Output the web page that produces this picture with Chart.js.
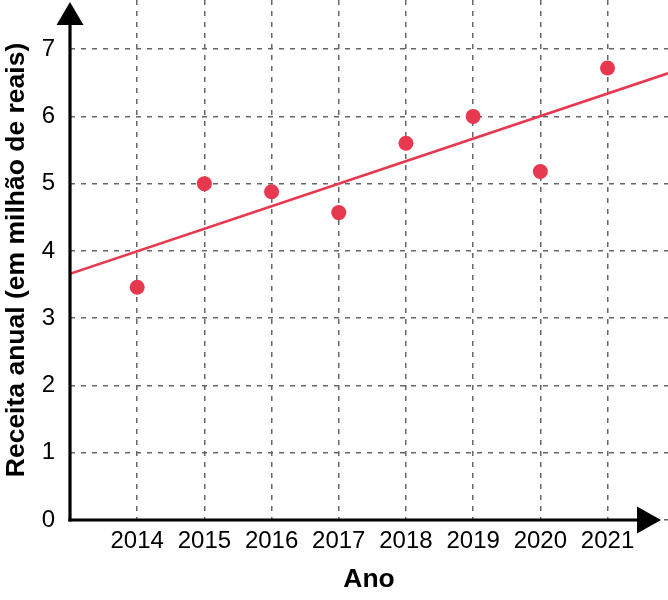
<!DOCTYPE html>
<html>
<head>
<meta charset="utf-8">
<script src="https://cdn.jsdelivr.net/npm/chart.js@4.4.1/dist/chart.umd.min.js"></script>
<style>
  html, body { margin: 0; padding: 0; background: #ffffff; }
  #wrap { width: 668px; height: 600px; }
</style>
</head>
<body>
<div id="wrap"><canvas id="c" width="668" height="600"></canvas></div>
<script>
// ---- Data ----
const years = [2014, 2015, 2016, 2017, 2018, 2019, 2020, 2021];
const revenue = [3.46, 5.0, 4.88, 4.57, 5.60, 6.0, 5.18, 6.72];
const trendX = [2013, 2021.9];
const trendY = [3.66, 6.64];
const yTicks = [0, 1, 2, 3, 4, 5, 6, 7];
const xTitle = 'Ano';
const yTitle = 'Receita anual (em milhão de reais)';

const RED = '#e8384f';
const FONT = "'Liberation Sans', Arial, Helvetica, sans-serif";

const axesPlugin = {
  id: 'arrowAxes',
  afterDraw(chart) {
    const { ctx } = chart;
    const xs = chart.scales.x, ys = chart.scales.y;
    const ox = xs.getPixelForValue(2013);
    const oy = ys.getPixelForValue(0);
    ctx.save();
    ctx.setLineDash([]);
    ctx.strokeStyle = '#000';
    ctx.fillStyle = '#000';
    ctx.lineWidth = 3.2;
    ctx.lineCap = 'butt';
    // y axis
    ctx.beginPath();
    ctx.moveTo(ox, oy + 1.6);
    ctx.lineTo(ox, 24);
    ctx.stroke();
    ctx.beginPath();
    ctx.moveTo(ox, 2);
    ctx.lineTo(ox - 13.5, 25);
    ctx.lineTo(ox + 13.5, 25);
    ctx.closePath();
    ctx.fill();
    // x axis
    ctx.beginPath();
    ctx.moveTo(ox - 1.6, oy);
    ctx.lineTo(639, oy);
    ctx.stroke();
    ctx.beginPath();
    ctx.moveTo(661, oy);
    ctx.lineTo(637, oy - 13.5);
    ctx.lineTo(637, oy + 13.5);
    ctx.closePath();
    ctx.fill();
    ctx.restore();
  }
};

new Chart(document.getElementById('c'), {
  type: 'scatter',
  data: {
    datasets: [
      {
        label: 'Receita',
        data: years.map((y, i) => ({ x: y, y: revenue[i] })),
        backgroundColor: RED,
        borderColor: RED,
        pointRadius: 7.5,
        pointHoverRadius: 7.5,
        borderWidth: 0,
        order: 1
      },
      {
        type: 'line',
        label: 'Tendência',
        data: trendX.map((x, i) => ({ x: x, y: trendY[i] })),
        borderColor: RED,
        borderWidth: 2.6,
        pointRadius: 0,
        fill: false,
        order: 2
      }
    ]
  },
  options: {
    responsive: false,
    animation: false,
    devicePixelRatio: 1,
    layout: { padding: 0, autoPadding: false },
    plugins: {
      legend: { display: false },
      tooltip: { enabled: false }
    },
    scales: {
      x: {
        type: 'linear',
        min: 2013,
        max: 2021.9,
        afterFit(scale) {
          scale.height = 80;
          scale.paddingLeft = 0; scale.paddingRight = 0;
          scale.paddingTop = 0; scale.paddingBottom = 0;
        },
        afterBuildTicks(scale) { scale.ticks = years.map(v => ({ value: v })); },
        border: { display: false, dash: [5, 6] },
        grid: {
          color: '#666',
          lineWidth: 1.5,
          drawTicks: false
        },
        ticks: {
          padding: 7,
          color: '#000',
          font: { family: FONT, size: 24 },
          callback: v => String(v),
          maxRotation: 0,
          autoSkip: false
        },
        title: {
          display: true,
          text: xTitle,
          color: '#000',
          font: { family: FONT, size: 26.5, weight: 'bold' },
          padding: { top: 0, bottom: 4 }
        }
      },
      y: {
        type: 'linear',
        min: 0,
        max: 7.73,
        afterFit(scale) {
          scale.width = 70;
          scale.paddingTop = 0; scale.paddingBottom = 0;
          scale.paddingLeft = 0; scale.paddingRight = 0;
        },
        afterBuildTicks(scale) { scale.ticks = yTicks.map(v => ({ value: v })); },
        border: { display: false, dash: [5, 6] },
        grid: {
          color: '#666',
          lineWidth: 1.5,
          drawTicks: false
        },
        ticks: {
          padding: 15,
          color: '#000',
          font: { family: FONT, size: 24 },
          callback: v => String(v)
        },
        title: {
          display: true,
          text: yTitle,
          color: '#000',
          font: { family: FONT, size: 26.5, weight: 'bold' },
          padding: { top: 1, bottom: 0 }
        }
      }
    }
  },
  plugins: [axesPlugin]
});
</script>
</body>
</html>
